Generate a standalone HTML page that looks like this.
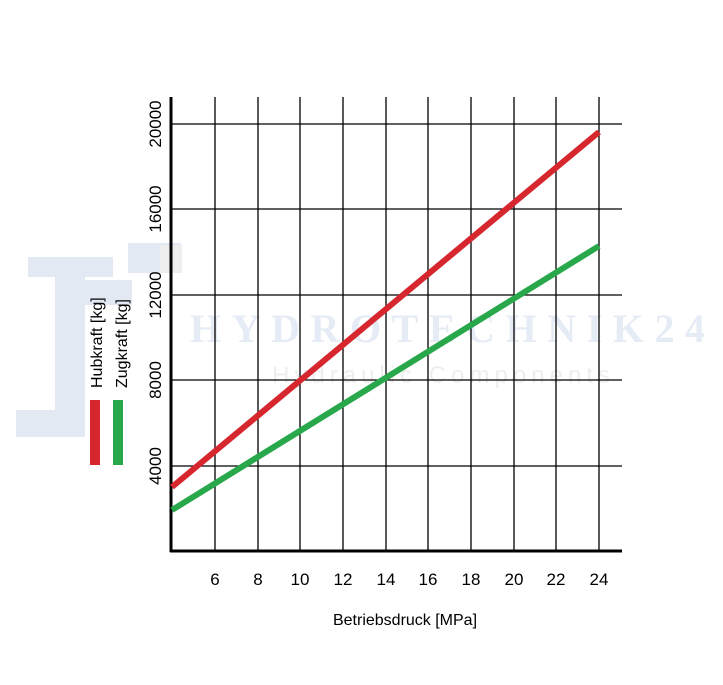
<!DOCTYPE html><html><head><style>body{margin:0;background:#fff}</style></head><body>
<svg width="723" height="680" xmlns="http://www.w3.org/2000/svg" font-family="Liberation Sans, sans-serif">
<g fill="#e3e9f3">
<rect x="28" y="257" width="85" height="20"/><rect x="55" y="257" width="30" height="180"/><rect x="16" y="410" width="55" height="27"/>
<rect x="128" y="243" width="53" height="30"/><rect x="72" y="280" width="60" height="25"/>
</g>
<g fill="#eeeeee"><rect x="160" y="245" width="22" height="28"/></g>
<text x="190" y="342" font-family="Liberation Serif, serif" font-weight="bold" font-size="40" fill="#e6ecf5" textLength="515">HYDROTECHNIK24</text>
<text x="272" y="383" font-size="24" fill="#eeeeee" textLength="338">Hydraulic Components</text>
<g stroke="#000" stroke-width="1.3">
<line x1="215" y1="97" x2="215" y2="551"/><line x1="258" y1="97" x2="258" y2="551"/><line x1="300" y1="97" x2="300" y2="551"/><line x1="343" y1="97" x2="343" y2="551"/><line x1="386" y1="97" x2="386" y2="551"/><line x1="428" y1="97" x2="428" y2="551"/><line x1="471" y1="97" x2="471" y2="551"/><line x1="514" y1="97" x2="514" y2="551"/><line x1="556" y1="97" x2="556" y2="551"/><line x1="599" y1="97" x2="599" y2="551"/>
<line x1="171" y1="124" x2="622" y2="124"/><line x1="171" y1="209" x2="622" y2="209"/><line x1="171" y1="295" x2="622" y2="295"/><line x1="171" y1="380" x2="622" y2="380"/><line x1="171" y1="466" x2="622" y2="466"/>
</g>
<g stroke="#000" stroke-width="3"><line x1="171" y1="97" x2="171" y2="552"/><line x1="170" y1="551" x2="622" y2="551"/></g>
<line x1="172" y1="487" x2="599" y2="132" stroke="#d6262e" stroke-width="6"/>
<line x1="172" y1="510" x2="599" y2="246" stroke="#28a84a" stroke-width="6"/>
<g font-size="17" fill="#000" text-anchor="middle">
<text transform="translate(161,124) rotate(-90)">20000</text>
<text transform="translate(161,209) rotate(-90)">16000</text>
<text transform="translate(161,295) rotate(-90)">12000</text>
<text transform="translate(161,380) rotate(-90)">8000</text>
<text transform="translate(161,466) rotate(-90)">4000</text>
<text x="215" y="585">6</text><text x="258" y="585">8</text><text x="300" y="585">10</text><text x="343" y="585">12</text><text x="386" y="585">14</text><text x="428" y="585">16</text><text x="471" y="585">18</text><text x="514" y="585">20</text><text x="556" y="585">22</text><text x="599" y="585">24</text>
<text x="405" y="625" font-size="16">Betriebsdruck [MPa]</text>
</g>
<g font-size="16" fill="#000" text-anchor="start">
<text transform="translate(102,388) rotate(-90)">Hubkraft [kg]</text>
<text transform="translate(127,388) rotate(-90)">Zugkraft [kg]</text>
</g>
<rect x="90" y="400" width="10" height="65" fill="#d6262e"/>
<rect x="113" y="400" width="10" height="65" fill="#28a84a"/>
</svg></body></html>
